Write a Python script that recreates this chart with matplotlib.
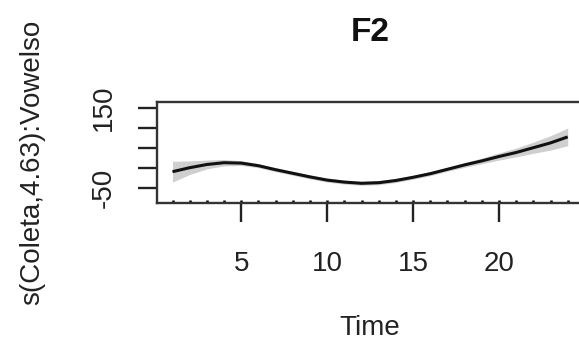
import numpy as np
import matplotlib
matplotlib.use("Agg")
import matplotlib.pyplot as plt

plt.rcParams['font.family'] = ['Liberation Sans', 'DejaVu Sans']

# Smooth term s(Coleta) for F2: fitted values and confidence half-widths
time = [1, 2, 3, 4, 5, 6, 7, 8, 9, 10, 11, 12,
        13, 14, 15, 16, 17, 18, 19, 20, 21, 22, 23, 24]
fit = [-10, 0, 8, 12.5, 11.5, 5, -5, -14, -23, -31, -36, -39,
       -37.5, -32, -24, -15, -4, 7, 17, 28, 38, 50, 62, 77]
halfwidth = [26, 17, 11, 8, 6, 5, 5, 5, 5, 5, 5, 5,
             5, 5, 5, 5, 5, 6, 7, 9, 11, 14, 18, 22]
rug = time

x_ticks = [5, 10, 15, 20]
y_ticks = [-50, 0, 50, 100, 150]
y_ticklabels = ['-50', '', '', '', '150']

t = np.array(time, dtype=float)
f = np.array(fit, dtype=float)
h = np.array(halfwidth, dtype=float)

W, H = 579, 348
fig = plt.figure(figsize=(W / 100, H / 100), dpi=100)
left, right, top, bottom = 156.7, 583.5, 102.3, 203.3
ax = fig.add_axes([left / W, 1 - bottom / H, (right - left) / W, (bottom - top) / H])

ax.fill_between(t, f - h, f + h, color='#cfcfcf', linewidth=0)
ax.plot(t, f, color='#111111', linewidth=2.2, solid_capstyle='butt')

# rug of observed time points along the bottom edge
ax.vlines(rug, 0, 0.035, transform=ax.get_xaxis_transform(), color='black', linewidth=1.8)

ax.set_xlim(0.08, 24.92)
ax.set_ylim(-89, 163.5)

ax.set_xticks(x_ticks)
ax.set_xticklabels([str(v) for v in x_ticks])
ax.set_yticks(y_ticks)
ax.set_yticklabels(y_ticklabels, rotation=90, va='center')

for s in ax.spines.values():
    s.set_linewidth(1.7)
    s.set_color('#333333')

ax.tick_params(axis='both', direction='out', length=14, width=1.7, color='#222222',
               labelsize=20, labelcolor='#222222')
ax.tick_params(axis='x', pad=20)
ax.tick_params(axis='y', pad=15)

ax.set_xlabel('Time', fontsize=20, color='#222222')
ax.xaxis.set_label_coords(0.5, -1.235)
ax.xaxis.label.set_va('center')

ax.set_ylabel('s(Coleta,4.63):Vowelso', fontsize=20, color='#222222')
ax.yaxis.set_label_coords(-0.292, -1.007)
ax.yaxis.label.set_rotation_mode('anchor')
ax.yaxis.label.set_ha('left')
ax.yaxis.label.set_va('center')

ax.text(0.5, 1.696, 'F2', transform=ax.transAxes, ha='center', va='center',
        fontsize=24, fontweight='bold', color='#111111')

fig.savefig('out.png', dpi=100)
